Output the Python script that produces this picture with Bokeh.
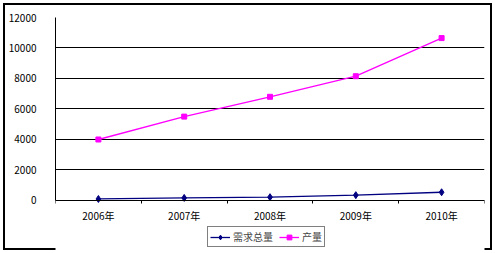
from bokeh.plotting import figure
from bokeh.models import Range1d, FixedTicker, Legend, LegendItem
from bokeh.embed import file_html
from bokeh.resources import INLINE

years = ["2006年", "2007年", "2008年", "2009年", "2010年"]
demand = [100, 170, 220, 350, 540]
output = [4000, 5500, 6800, 8150, 10650]
y_ticks = [0, 2000, 4000, 6000, 8000, 10000, 12000]

FONT = "Noto Sans CJK SC"

xs = [i + 0.5 for i in range(len(years))]

# frame spans the area down to the legend; value 0 sits 50 px above the frame bottom
p = figure(width=495, height=253, output_backend="svg", toolbar_location=None,
           x_range=Range1d(0, len(years)), y_range=Range1d(-3279, 12000),
           min_border_left=55, min_border_right=11, min_border_top=17, min_border_bottom=3)
p.outline_line_color = None
p.background_fill_color = "white"
p.border_fill_alpha = 0
p.styles = {"outline": "2px solid black", "outline-offset": "-5px", "background": "white"}

# axes
p.yaxis.ticker = FixedTicker(ticks=y_ticks)
p.yaxis.bounds = (0, 12000)
p.yaxis.major_tick_line_color = None
p.yaxis.minor_tick_line_color = None
p.yaxis.major_label_standoff = 13
p.yaxis.axis_line_color = "black"
p.yaxis.major_label_text_font = FONT
p.yaxis.major_label_text_font_size = "10px"
p.yaxis.major_label_text_color = "black"

p.xaxis.fixed_location = 0
p.xaxis.ticker = FixedTicker(ticks=xs, minor_ticks=list(range(len(years) + 1)))
p.xaxis.major_label_overrides = {x: y for x, y in zip(xs, years)}
p.xaxis.major_tick_line_color = None
p.xaxis.minor_tick_line_color = "black"
p.xaxis.minor_tick_out = 3
p.xaxis.minor_tick_in = 0
p.xaxis.major_label_standoff = 2
p.xaxis.axis_line_color = "black"
p.xaxis.major_label_text_font = FONT
p.xaxis.major_label_text_font_size = "10px"
p.xaxis.major_label_text_color = "black"

p.xgrid.grid_line_color = None
p.ygrid.ticker = FixedTicker(ticks=y_ticks)
p.ygrid.grid_line_color = "black"
p.ygrid.grid_line_width = 1

# series
l1 = p.line(xs, demand, line_color="#000080", line_width=1.3)
m1 = p.scatter(xs, demand, marker="diamond", size=7, fill_color="#000080", line_color="#000080")
l2 = p.line(xs, output, line_color="#FF00FF", line_width=1.3)
m2 = p.scatter(xs, output, marker="square", size=5, fill_color="#FF00FF", line_color="#FF00FF")

legend = Legend(items=[LegendItem(label="需求总量", renderers=[l1, m1]),
                       LegendItem(label="产量", renderers=[l2, m2])],
                location=(152, 3), orientation="horizontal",
                label_text_font=FONT, label_text_font_size="10px",
                glyph_width=20, glyph_height=12, label_height=12,
                padding=2, spacing=6, margin=0,
                label_standoff=3, border_line_color="black", border_line_width=1,
                background_fill_alpha=1)
p.add_layout(legend, "center")

open("out.html", "w").write(file_html(p, INLINE))
